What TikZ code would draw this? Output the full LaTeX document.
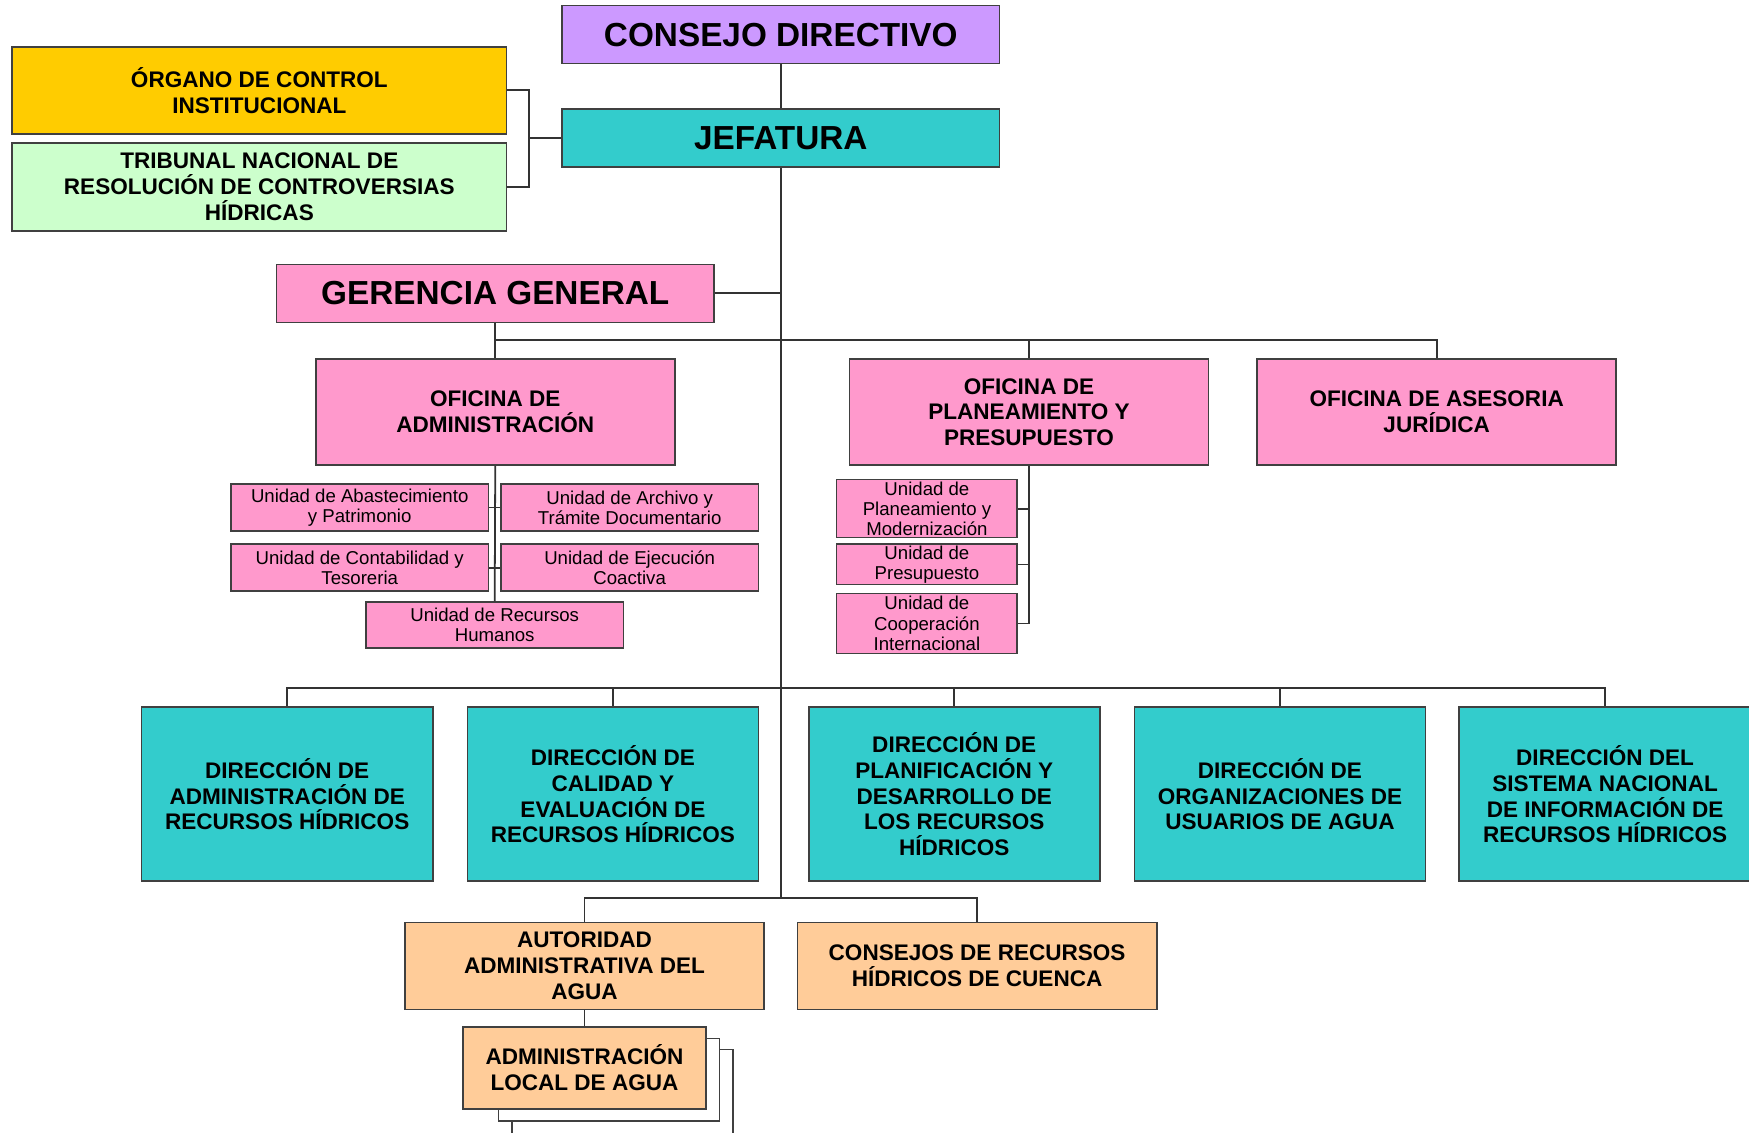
\documentclass[tikz,border=0pt]{standalone}
\usepackage{fontspec}
\setmainfont{Liberation Sans}
\definecolor{lila}{HTML}{CC99FF}
\definecolor{turquesa}{HTML}{33CCCC}
\definecolor{amarillo}{HTML}{FFCC00}
\definecolor{verdeclaro}{HTML}{CCFFCC}
\definecolor{rosa}{HTML}{FF99CC}
\definecolor{durazno}{HTML}{FFCC99}
\tikzset{
  caja/.style={draw=black!75, line width=0.3mm, inner sep=0pt, align=center,
    font=\bfseries\fontsize{11.5}{13.2}\selectfont},
  titulo/.style={caja, minimum width=78.4mm, minimum height=10.4mm,
    font=\bfseries\fontsize{17}{20}\selectfont},
  oficina/.style={caja, fill=rosa, minimum width=64.4mm, minimum height=19mm},
  unidad/.style={caja, fill=rosa, font=\fontsize{9.5}{10.3}\selectfont},
  direccion/.style={caja, fill=turquesa, minimum width=52.2mm, minimum height=31.2mm},
  autoridad/.style={caja, fill=durazno, minimum width=64.4mm, minimum height=15.6mm},
  linea/.style={draw=black!80, line width=0.32mm},
}
\begin{document}
\begin{tikzpicture}[x=0.2mm, y=-0.2mm]
  \fill[white] (0,0) rectangle (1568,1015);
  \useasboundingbox (0,0) rectangle (1568,1015);
  % alta direccion
  \node[titulo, fill=lila] (consejo) at (700,31) {CONSEJO DIRECTIVO};
  \node[titulo, fill=turquesa] (jefatura) at (700,124) {JEFATURA};
  \node[caja, fill=amarillo, minimum width=88.6mm, minimum height=15.6mm] (organo) at (232.5,81)
    {ÓRGANO DE CONTROL\\INSTITUCIONAL};
  \node[caja, fill=verdeclaro, minimum width=88.6mm, minimum height=15.8mm] (tribunal) at (232.5,167.5)
    {TRIBUNAL NACIONAL DE\\RESOLUCIÓN DE CONTROVERSIAS\\HÍDRICAS};
  \node[titulo, fill=rosa] (gerencia) at (444,263) {GERENCIA GENERAL};
  \coordinate (brk) at (474,124);
  \coordinate (bus1) at (700,305);
  \coordinate (bus2) at (700,617);
  \coordinate (bus3) at (700,805);
  % oficinas
  \node[oficina] (ofadmin) at (444,369.5) {OFICINA DE\\ADMINISTRACIÓN};
  \node[oficina] (ofplan) at (922.5,369.5) {OFICINA DE\\PLANEAMIENTO Y\\PRESUPUESTO};
  \node[oficina] (ofjur) at (1288,369.5) {OFICINA DE ASESORIA\\JURÍDICA};
  % unidades
  \node[unidad, minimum width=46.2mm, minimum height=8.4mm] (uabast) at (322.5,455)
    {Unidad de Abastecimiento\\y Patrimonio};
  \node[unidad, minimum width=46.2mm, minimum height=8.4mm] (uarch) at (564.5,455)
    {Unidad de Archivo y\\Trámite Documentario};
  \node[unidad, minimum width=46.2mm, minimum height=8.4mm] (ucont) at (322.5,509)
    {Unidad de Contabilidad y\\Tesoreria};
  \node[unidad, minimum width=46.2mm, minimum height=8.4mm] (uejec) at (564.5,509)
    {Unidad de Ejecución\\Coactiva};
  \node[unidad, minimum width=46.2mm, minimum height=8.2mm] (urrhh) at (443.5,560.5)
    {Unidad de Recursos\\Humanos};
  \node[unidad, minimum width=32.4mm, minimum height=10.4mm] (uplan) at (831,456)
    {Unidad de\\Planeamiento y\\Modernización};
  \node[unidad, minimum width=32.4mm, minimum height=7.2mm] (upres) at (831,506)
    {Unidad de\\Presupuesto};
  \node[unidad, minimum width=32.4mm, minimum height=10.8mm] (ucoop) at (831,559)
    {Unidad de\\Cooperación\\Internacional};
  % direcciones
  \node[direccion] (dirA) at (257.5,712) {DIRECCIÓN DE\\ADMINISTRACIÓN DE\\RECURSOS HÍDRICOS};
  \node[direccion] (dirB) at (549.5,712) {DIRECCIÓN DE\\CALIDAD Y\\EVALUACIÓN DE\\RECURSOS HÍDRICOS};
  \node[direccion] (dirC) at (855.5,712) {DIRECCIÓN DE\\PLANIFICACIÓN Y\\DESARROLLO DE\\LOS RECURSOS\\HÍDRICOS};
  \node[direccion] (dirD) at (1147.5,712) {DIRECCIÓN DE\\ORGANIZACIONES DE\\USUARIOS DE AGUA};
  \node[direccion, minimum width=52.4mm] (dirE) at (1439,712) {DIRECCIÓN DEL\\SISTEMA NACIONAL\\DE INFORMACIÓN DE\\RECURSOS HÍDRICOS};
  % organos desconcentrados
  \node[autoridad] (ana) at (524,866) {AUTORIDAD\\ADMINISTRATIVA DEL\\AGUA};
  \node[autoridad] (cuenca) at (876,866) {CONSEJOS DE RECURSOS\\HÍDRICOS DE CUENCA};
  \draw[draw=black!75, line width=0.3mm, fill=white] (459,941) rectangle (657,1030);
  \draw[draw=black!75, line width=0.3mm, fill=white] (447,931) rectangle (645,1005);
  \node[caja, fill=durazno, minimum width=43.6mm, minimum height=14.6mm] (ala) at (524,957.5)
    {ADMINISTRACIÓN\\LOCAL DE AGUA};
  % lineas
  \draw[linea] (consejo) -- (jefatura);
  \draw[linea] (jefatura.south) -- (bus3);
  \draw[linea] (jefatura.west) -- (brk);
  \draw[linea] (organo.east) -| (brk) |- (tribunal.east);
  \draw[linea] (gerencia.east) -- (gerencia.east -| jefatura.south);
  \draw[linea] (gerencia.south) -- (ofadmin.north);
  \draw[linea] (ofadmin.north |- bus1) -- (ofjur.north |- bus1) -- (ofjur.north);
  \draw[linea] (ofplan.north |- bus1) -- (ofplan.north);
  \draw[linea] (ofadmin.south) -- (urrhh.north);
  \draw[linea] (uabast.east) -- (uarch.west);
  \draw[linea] (ucont.east) -- (uejec.west);
  \draw[linea] (ofplan.south) -- (ofplan.south |- ucoop.east) -- (ucoop.east);
  \foreach \u in {uplan,upres}
    \draw[linea] (\u.east) -- (\u.east -| ofplan.south);
  \draw[linea] (dirA.north) -- (dirA.north |- bus2) -- (dirE.north |- bus2) -- (dirE.north);
  \foreach \d in {dirB,dirC,dirD}
    \draw[linea] (\d.north |- bus2) -- (\d.north);
  \draw[linea] (ana.north) -- (ana.north |- bus3) -- (cuenca.north |- bus3) -- (cuenca.north);
  \draw[linea] (ana) -- (ala);
\end{tikzpicture}
\end{document}
